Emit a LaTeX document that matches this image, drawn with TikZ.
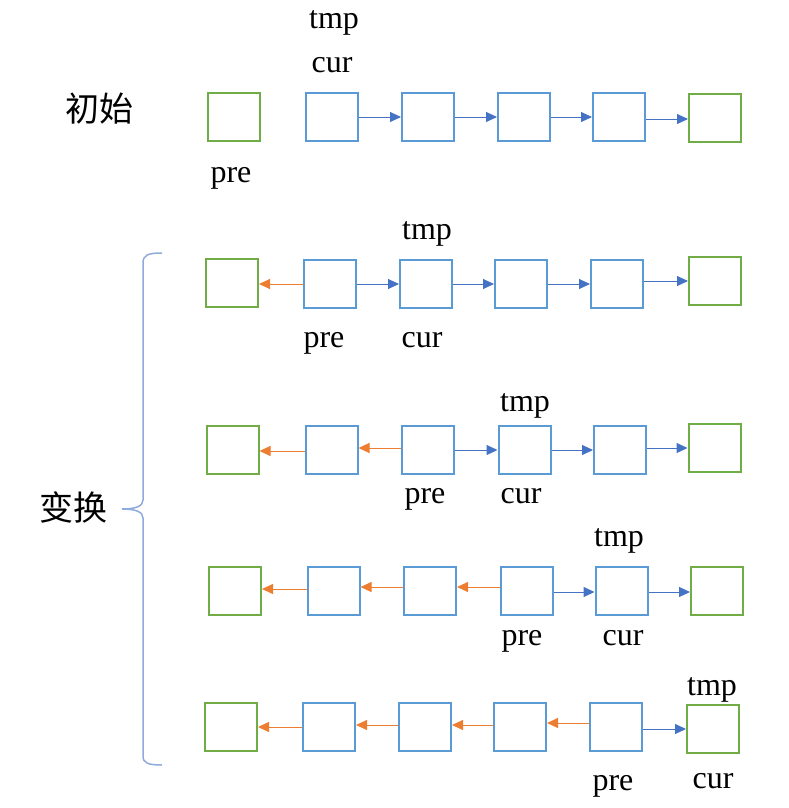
\documentclass[tikz,border=0pt]{standalone}
\usepackage{fontspec}
\setmainfont{Liberation Serif}
\newfontfamily\cjk{Noto Sans CJK SC}
\usetikzlibrary{arrows.meta}
\definecolor{gbox}{HTML}{70AD47}
\definecolor{bbox}{HTML}{5B9BD5}
\definecolor{barrow}{HTML}{4472C4}
\definecolor{oarrow}{HTML}{ED7D31}
\definecolor{brcol}{HTML}{8FAADC}
\tikzset{
  boxbase/.style={draw, line width=2pt, minimum width=52pt, minimum height=48pt, inner sep=0pt},
  gnode/.style={boxbase, draw=gbox},
  bnode/.style={boxbase, draw=bbox},
  barr/.style={draw=barrow, line width=1pt, -{Triangle[length=11pt,width=10pt]}, barrow},
  oarr/.style={draw=oarrow, line width=1pt, -{Triangle[length=11pt,width=10pt]}, oarrow},
  lbl/.style={anchor=base, inner sep=0pt, yshift=-2pt, font=\fontsize{32}{38}\selectfont},
  cjklbl/.style={inner sep=0pt, font=\cjk\fontsize{34}{40}\selectfont},
  brc/.style={draw=brcol, line width=1.5pt}
}
\begin{document}
\begin{tikzpicture}[x=1pt,y=-1pt]
\useasboundingbox (0,0) rectangle (788,808);
% labels left
\node[cjklbl] (init) at (99.5,109) {初始};
\node[cjklbl] (trans) at (73.5,507.5) {变换};
% brace
\draw[brc] (162,253) .. controls (148,253) and (143,255) .. (143,263) -- (143,500)
  .. controls (143,506) and (136,509) .. (122,509)
  .. controls (136,509) and (143,512) .. (143,518) -- (143,756)
  .. controls (143,763) and (148,765) .. (162,765);
% Row 1
\node[gnode] (r1a) at (234,117) {};
\node[bnode] (r1b) at (331.5,117) {};
\node[bnode] (r1c) at (428,117) {};
\node[bnode] (r1d) at (524,117) {};
\node[bnode] (r1e) at (619,117) {};
\node[gnode] (r1f) at (715,118) {};
\draw[barr] (r1b.east |- 0,117) -- (r1c.west |- 0,117);
\draw[barr] (r1c.east |- 0,117) -- (r1d.west |- 0,117);
\draw[barr] (r1d.east |- 0,117) -- (r1e.west |- 0,117);
\draw[barr] (r1e.east |- 0,119) -- (r1f.west |- 0,119);
\node[lbl] (t1) at (334,27) {tmp};
\node[lbl] (c1) at (332,70) {cur};
\node[lbl] (p1) at (231,180) {pre};
% Row 2
\node[gnode] (r2a) at (232,283) {};
\node[bnode] (r2b) at (330,284) {};
\node[bnode] (r2c) at (426,284) {};
\node[bnode] (r2d) at (521,284) {};
\node[bnode] (r2e) at (617,284) {};
\node[gnode] (r2f) at (715,281) {};
\draw[oarr] (r2b.west |- 0,284) -- (r2a.east |- 0,284);
\draw[barr] (r2b.east |- 0,284) -- (r2c.west |- 0,284);
\draw[barr] (r2c.east |- 0,284) -- (r2d.west |- 0,284);
\draw[barr] (r2d.east |- 0,284) -- (r2e.west |- 0,284);
\draw[barr] (r2e.east |- 0,281) -- (r2f.west |- 0,281);
\node[lbl] (t2) at (427,237) {tmp};
\node[lbl] (p2) at (324,345) {pre};
\node[lbl] (c2) at (422,345) {cur};
% Row 3
\node[gnode] (r3a) at (232.5,450) {};
\node[bnode] (r3b) at (331.5,450) {};
\node[bnode] (r3c) at (428,450) {};
\node[bnode] (r3d) at (524.5,450) {};
\node[bnode] (r3e) at (620,450) {};
\node[gnode] (r3f) at (714.5,448) {};
\draw[oarr] (r3b.west |- 0,451) -- (r3a.east |- 0,451);
\draw[oarr] (r3c.west |- 0,448) -- (r3b.east |- 0,448);
\draw[barr] (r3c.east |- 0,450) -- (r3d.west |- 0,450);
\draw[barr] (r3d.east |- 0,450) -- (r3e.west |- 0,450);
\draw[barr] (r3e.east |- 0,448) -- (r3f.west |- 0,448);
\node[lbl] (t3) at (525,409) {tmp};
\node[lbl] (p3) at (425,501) {pre};
\node[lbl] (c3) at (521,501) {cur};
% Row 4
\node[gnode] (r4a) at (235,591) {};
\node[bnode] (r4b) at (333.5,591) {};
\node[bnode] (r4c) at (430,591) {};
\node[bnode] (r4d) at (526.5,591) {};
\node[bnode] (r4e) at (621.5,591) {};
\node[gnode] (r4f) at (717,591) {};
\draw[oarr] (r4b.west |- 0,589) -- (r4a.east |- 0,589);
\draw[oarr] (r4c.west |- 0,587) -- (r4b.east |- 0,587);
\draw[oarr] (r4d.west |- 0,587) -- (r4c.east |- 0,587);
\draw[barr] (r4d.east |- 0,592) -- (r4e.west |- 0,592);
\draw[barr] (r4e.east |- 0,592) -- (r4f.west |- 0,592);
\node[lbl] (t4) at (619,544) {tmp};
\node[lbl] (p4) at (522,643) {pre};
\node[lbl] (c4) at (623,643) {cur};
% Row 5
\node[gnode] (r5a) at (231,727) {};
\node[bnode] (r5b) at (329,727) {};
\node[bnode] (r5c) at (425,727) {};
\node[bnode] (r5d) at (520,727) {};
\node[bnode] (r5e) at (616,727) {};
\node[gnode] (r5f) at (713,728.5) {};
\draw[oarr] (r5b.west |- 0,727) -- (r5a.east |- 0,727);
\draw[oarr] (r5c.west |- 0,725) -- (r5b.east |- 0,725);
\draw[oarr] (r5d.west |- 0,725) -- (r5c.east |- 0,725);
\draw[oarr] (r5e.west |- 0,723) -- (r5d.east |- 0,723);
\draw[barr] (r5e.east |- 0,729) -- (r5f.west |- 0,729);
\node[lbl] (t5) at (712,693) {tmp};
\node[lbl] (p5) at (613,788) {pre};
\node[lbl] (c5) at (713,786) {cur};
\end{tikzpicture}
\end{document}
